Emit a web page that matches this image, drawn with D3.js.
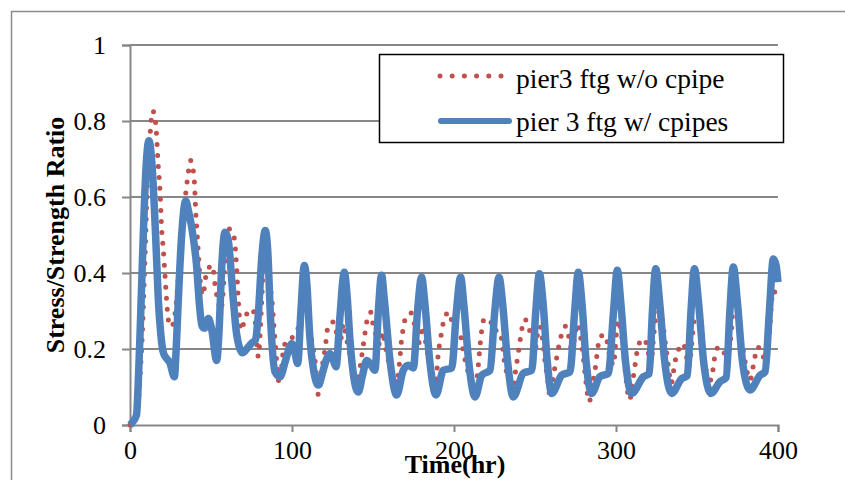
<!DOCTYPE html>
<html><head><meta charset="utf-8">
<script src="https://cdn.jsdelivr.net/npm/d3@7"></script>
<style>body{margin:0;background:#fff}svg{display:block}</style>
</head><body>
<svg id="c" width="845" height="480"></svg>
<script>
// ---- data ----
const blueTime = [0,2,4,5,6.2,8.2,9.8,11.7,13.5,15.8,17.5,19,20.6,22.6,24.5,27.4,28.5,29.8,31.9,34.4,36,38.1,41.2,43,44.5,46,48.4,50.5,53.5,55,56.6,58.6,60.5,63.8,65.8,69.5,72,75,77.5,79,81.5,83.5,85,86.8,89.5,92.6,96,99.8,101.8,103.5,105.5,107.6,109,111,113.5,116.3,119,121.5,123.5,125.5,127.2,129.5,132.3,134,135.8,138,140.9,143.5,146.1,148.5,151.2,153.3,155.3,157,160.5,164.6,168.7,171.8,174.9,177.5,180,182,185,188.9,193.4,198.6,201.5,204.1,206,209,213,217.1,222.2,225.2,227.8,230,233,236.6,242.8,248,250.5,252.7,255,257.5,260.3,266.5,271.6,274.5,276.7,279,281.5,285,290,295.3,298.5,300.8,303,305.8,309.7,316.9,320.5,322.5,324.5,327,330,334.4,340.5,344,346.3,348.4,351,354,358.6,364.2,368,370.3,372.4,375,378,382.7,388.9,392,394.7,397.1,398.8,400];
const blueRatio = [0,0.01,0.026,0.1,0.24,0.5,0.67,0.748,0.69,0.5,0.328,0.24,0.19,0.175,0.165,0.127,0.2,0.328,0.5,0.59,0.565,0.52,0.415,0.31,0.26,0.255,0.28,0.25,0.17,0.25,0.415,0.507,0.49,0.328,0.24,0.19,0.2,0.215,0.225,0.28,0.45,0.512,0.46,0.276,0.14,0.127,0.17,0.214,0.19,0.162,0.3,0.42,0.38,0.232,0.14,0.105,0.14,0.175,0.188,0.17,0.153,0.28,0.402,0.34,0.223,0.13,0.087,0.13,0.17,0.16,0.144,0.3,0.394,0.33,0.17,0.079,0.144,0.157,0.15,0.3,0.389,0.32,0.17,0.079,0.144,0.15,0.3,0.389,0.32,0.17,0.074,0.131,0.144,0.3,0.389,0.32,0.17,0.074,0.136,0.144,0.3,0.398,0.32,0.17,0.083,0.131,0.14,0.3,0.402,0.32,0.17,0.083,0.127,0.136,0.3,0.407,0.32,0.17,0.083,0.127,0.135,0.3,0.411,0.32,0.17,0.083,0.122,0.13,0.3,0.411,0.32,0.17,0.083,0.114,0.125,0.3,0.416,0.32,0.17,0.092,0.131,0.14,0.3,0.437,0.42,0.376];
const redTime = [0,3,5,6.5,7.6,8.7,9.7,11,12.3,14,15.8,17.5,18.5,19.5,20.6,21.6,22.6,23.7,25.5,27.8,29.4,30.9,32.9,34.6,36,37.4,38.9,39.7,40.7,41.7,42.6,43.6,44.9,47.3,50.8,52.8,54.5,55.8,57.6,58.6,59.7,61.1,63,64.8,65.8,66.9,68.5,71,73.5,75.7,77.2,79.2,81,82.3,83.5,85,86.3,87.6,89,90.5,92.2,94.7,97,100,103,105.5,108,109.5,111,114.2,116.3,118.3,120.4,122.4,125.5,128,130,131.7,133.5,135.8,137.9,140.3,143,145,146.1,148.6,150.2,152.5,154.3,156,157.5,160,162.5,164.6,166.5,167.7,168.5,170.4,173.5,175.5,177.5,179,180.5,182,184,186.5,188.7,190.3,192.4,193.8,196.9,199,200.6,203.7,205.5,208,210.5,213,215,216.2,217.1,218.7,222.2,224.3,227.4,229,231.5,234,236.6,237.6,238.7,239.7,240.7,241.8,243.8,246.5,249,250,252,253,254.5,256.2,257.8,259.3,261,262.3,263.5,264.8,266.5,269,271,272.6,274.5,276.1,278,279.5,281,283.5,285.5,287,288.1,289,290.5,293.8,295,297,298.4,299.5,300.4,301.4,303,304.5,306,308.4,310.5,312,312.8,314.8,317.5,319.5,321.5,323,324,325,328,329,330,331,332.5,334,336.4,338.5,341.6,343.5,344.7,346.5,347.5,348.8,351,352.5,354.9,356.5,358.6,361,363.2,366,368.3,370,371.4,372.4,373.5,375,376.2,377.6,380,382.7,384.5,385.8,387,389.5,392,393.5,395,396,397,399.8];
const redRatio = [0,0.01,0.05,0.15,0.24,0.37,0.5,0.68,0.76,0.827,0.796,0.678,0.617,0.52,0.46,0.394,0.328,0.276,0.258,0.293,0.363,0.46,0.556,0.617,0.665,0.696,0.674,0.643,0.551,0.486,0.424,0.367,0.341,0.402,0.42,0.359,0.324,0.302,0.354,0.433,0.486,0.516,0.512,0.477,0.415,0.324,0.249,0.28,0.302,0.304,0.276,0.18,0.3,0.415,0.45,0.42,0.37,0.33,0.25,0.17,0.108,0.197,0.225,0.23,0.245,0.285,0.324,0.3,0.25,0.17,0.079,0.144,0.2,0.262,0.271,0.235,0.225,0.267,0.23,0.184,0.144,0.118,0.18,0.24,0.271,0.297,0.26,0.23,0.21,0.245,0.21,0.16,0.125,0.11,0.17,0.227,0.25,0.286,0.295,0.267,0.215,0.22,0.26,0.23,0.18,0.14,0.114,0.188,0.245,0.277,0.297,0.267,0.249,0.24,0.2,0.15,0.12,0.096,0.157,0.215,0.249,0.279,0.277,0.249,0.249,0.235,0.157,0.12,0.1,0.13,0.162,0.19,0.22,0.251,0.278,0.251,0.219,0.2,0.249,0.26,0.23,0.166,0.12,0.074,0.12,0.153,0.18,0.21,0.24,0.26,0.23,0.2,0.23,0.267,0.235,0.19,0.13,0.061,0.11,0.142,0.18,0.21,0.234,0.236,0.205,0.17,0.157,0.2,0.249,0.276,0.25,0.2,0.13,0.066,0.12,0.165,0.188,0.219,0.227,0.2,0.16,0.22,0.267,0.297,0.297,0.267,0.23,0.2,0.15,0.109,0.166,0.197,0.214,0.18,0.153,0.2,0.25,0.289,0.289,0.25,0.162,0.13,0.118,0.18,0.205,0.2,0.166,0.2,0.258,0.328,0.34,0.306,0.27,0.223,0.16,0.118,0.15,0.18,0.205,0.2,0.17,0.2,0.258,0.324,0.354,0.328];
const xTicks = [0, 100, 200, 300, 400];
const yTicks = [0, 0.2, 0.4, 0.6, 0.8, 1];
const seriesNames = ["pier3 ftg w/o cpipe", "pier 3 ftg w/ cpipes"];
const xTitle = "Time(hr)";
const yTitle = "Stress/Strength Ratio";

// ---- drawing ----
const RED = "#C0504D", BLUE = "#4F81BD", GRID = "#878787";
const FONT = "'Liberation Serif','Times New Roman',serif";
const svg = d3.select("#c");
const x = d3.scaleLinear().domain([0, 400]).range([130, 778]);
const y = d3.scaleLinear().domain([0, 1]).range([425, 45]);

svg.append("path").attr("d", "M11.5,480V11.5H845").attr("fill", "none")
  .attr("stroke", "#8c8c8c").attr("stroke-width", 1.5);

// gridlines
svg.append("g").selectAll("line").data(yTicks.filter(d => d > 0)).join("line")
  .attr("x1", 130).attr("x2", 778).attr("y1", d => y(d)).attr("y2", d => y(d))
  .attr("stroke", GRID).attr("stroke-width", 2);

const yAxis = svg.append("g").attr("transform", "translate(130,0)")
  .call(d3.axisLeft(y).tickValues(yTicks).tickSize(8).tickPadding(16)
    .tickFormat(d => (d === 0 || d === 1) ? String(d) : d3.format(".1f")(d)));
const xAxis = svg.append("g").attr("transform", "translate(0,425)")
  .call(d3.axisBottom(x).tickValues(xTicks).tickSize(7).tickPadding(9).tickFormat(d3.format("d")));
[yAxis, xAxis].forEach(g => {
  g.select(".domain").attr("stroke", GRID).attr("stroke-width", 2);
  g.selectAll(".tick line").attr("stroke", GRID).attr("stroke-width", 2);
  g.selectAll(".tick text").attr("fill", "#000").attr("font-family", FONT).attr("font-size", 26);
});

const blueData = blueTime.map((t, i) => [t, blueRatio[i]]);
const redData = redTime.map((t, i) => [t, redRatio[i]]);
const line = d3.line().x(d => x(d[0])).y(d => y(d[1])).curve(d3.curveMonotoneX);

svg.append("path").datum(redData).attr("d", line).attr("fill", "none")
  .attr("stroke", RED).attr("stroke-width", 5).attr("stroke-linecap", "round")
  .attr("stroke-dasharray", "0,11");
svg.append("path").datum(blueData).attr("d", line).attr("fill", "none")
  .attr("stroke", BLUE).attr("stroke-width", 7.5).attr("stroke-linejoin", "round");

// axis titles
svg.append("text").attr("x", 455).attr("y", 473).attr("text-anchor", "middle")
  .attr("font-family", FONT).attr("font-weight", "bold").attr("font-size", 26).text(xTitle);
svg.append("text").attr("transform", "translate(64,235) rotate(-90)").attr("text-anchor", "middle")
  .attr("font-family", FONT).attr("font-weight", "bold").attr("font-size", 26).text(yTitle);

// legend
const lg = svg.append("g");
lg.append("rect").attr("x", 379.5).attr("y", 54.5).attr("width", 404).attr("height", 88)
  .attr("fill", "#fff").attr("stroke", "#000").attr("stroke-width", 1.5);
lg.append("line").attr("x1", 440).attr("x2", 501).attr("y1", 76).attr("y2", 76)
  .attr("stroke", RED).attr("stroke-width", 5).attr("stroke-linecap", "round").attr("stroke-dasharray", "0,12.2");
lg.append("line").attr("x1", 441).attr("x2", 509).attr("y1", 121).attr("y2", 121)
  .attr("stroke", BLUE).attr("stroke-width", 6).attr("stroke-linecap", "round");
lg.selectAll("text.lt").data(seriesNames).join("text").attr("class", "lt")
  .attr("x", 516).attr("y", (d, i) => i === 0 ? 87.5 : 131)
  .attr("font-family", FONT).attr("font-size", 27.5).attr("fill", "#000").text(d => d);
</script>
</body></html>
